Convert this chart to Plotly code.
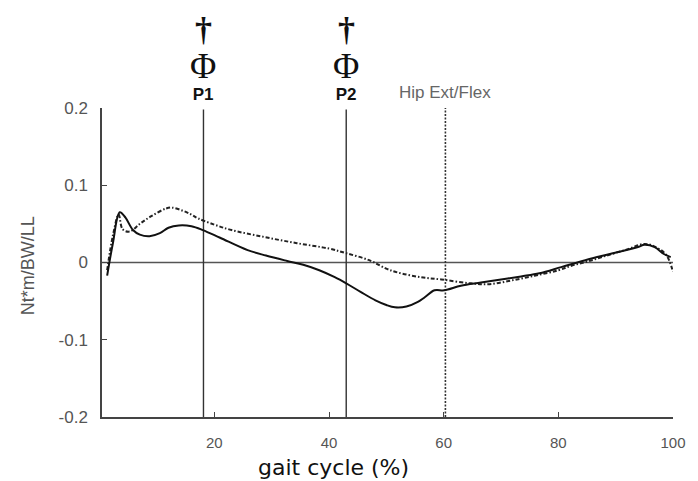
import plotly.graph_objects as go

# ---- data ----
solid_x = [1.3, 2.3, 3.5, 4.5, 5.8, 7.0, 8.7, 10.5, 12.0, 13.8, 16.0, 18.0, 21.0, 25.8, 29.0,
           32.7, 35.5, 38.3, 41.0, 43.0, 45.5, 48.1, 50.0, 51.5, 53.5, 55.5, 56.7, 58.4,
           60.1, 63.0, 66.5, 70.0, 73.5, 76.7, 80.5, 84.7, 89.0, 93.9, 95.0, 96.8, 98.4, 99.6]
solid_y = [-0.017, 0.025, 0.065, 0.058, 0.042, 0.036, 0.034, 0.038, 0.045, 0.048, 0.047, 0.042,
           0.032, 0.016, 0.009, 0.002, -0.003, -0.010, -0.019, -0.027, -0.038, -0.049, -0.055,
           -0.058, -0.057, -0.051, -0.045, -0.036, -0.036, -0.030, -0.026, -0.022, -0.018,
           -0.014, -0.006, 0.003, 0.011, 0.020, 0.023, 0.020, 0.011, 0.007]

dash_x = [1.3, 2.3, 3.3, 4.0, 5.2, 7.0, 9.0, 11.6, 12.6, 14.5, 16.0, 17.2, 20.0, 23.0, 28.7,
          34.4, 40.0, 43.0, 47.0, 50.0, 52.0, 56.0, 59.6, 64.7, 68.0, 72.0, 76.0, 80.0,
          82.4, 85.0, 88.0, 92.0, 95.0, 97.0, 98.8, 100.0]
dash_y = [-0.010, 0.035, 0.062, 0.043, 0.040, 0.050, 0.060, 0.070, 0.071, 0.067, 0.062, 0.057,
          0.049, 0.042, 0.033, 0.025, 0.018, 0.012, 0.003, -0.008, -0.013, -0.019, -0.022,
          -0.027, -0.028, -0.023, -0.017, -0.010, -0.004, 0.001, 0.008, 0.017, 0.024, 0.020,
          0.010, -0.012]

event_x = [18.1, 43.0]
event_labels = ["P1", "P2"]
hip_x = 60.3
hip_label = "Hip Ext/Flex"

x_ticks = [20, 40, 60, 80, 100]
y_ticks = [0.2, 0.1, 0, -0.1, -0.2]
y_ticktext = ["0.2", "0.1", "0", "-0.1", "-0.2"]

fig = go.Figure()

# zero line
fig.add_shape(type="line", x0=0.4, x1=100, y0=0, y1=0, xref="x", yref="y",
              line=dict(color="#555555", width=1.6), layer="below")
# event lines
for ex in event_x:
    fig.add_shape(type="line", x0=ex, x1=ex, y0=-0.2, y1=0.198, xref="x", yref="y",
                  line=dict(color="#333333", width=1.4), layer="below")
fig.add_shape(type="line", x0=hip_x, x1=hip_x, y0=-0.2, y1=0.2, xref="x", yref="y",
              line=dict(color="#333333", width=1.6, dash="2px,1.5px"), layer="below")

fig.add_trace(go.Scatter(x=dash_x, y=dash_y, mode="lines", line_shape="spline",
                         line=dict(color="#222222", width=2, dash="4px,2px,1.5px,2px"),
                         showlegend=False))
fig.add_trace(go.Scatter(x=solid_x, y=solid_y, mode="lines", line_shape="spline",
                         line=dict(color="#111111", width=2), showlegend=False))

for ex, lab in zip(event_x, event_labels):
    stack = ("<span style='font-size:36px;font-family:Liberation Serif'>Φ</span><br>"
             "<b>" + lab + "</b>")
    fig.add_annotation(x=ex, y=1.008, xref="x", yref="paper", yanchor="bottom",
                       align="center", text=stack, showarrow=False,
                       font=dict(family="Liberation Sans", size=17, color="#111"))
    fig.add_annotation(x=ex, y=1.255, xref="x", yref="paper", yanchor="middle",
                       text="<b>†</b>", showarrow=False,
                       font=dict(family="Liberation Serif", size=34, color="#111"))

fig.add_annotation(x=hip_x, y=1.05, xref="x", yref="paper", yanchor="middle",
                   text=hip_label, showarrow=False,
                   font=dict(family="Liberation Sans", size=17, color="#666"))

fig.add_annotation(x=0.406, y=-0.162, xref="paper", yref="paper", xanchor="center",
                   yanchor="middle", text="gait cycle (%)", showarrow=False,
                   font=dict(family="DejaVu Sans", size=22, color="#111"))
fig.add_annotation(x=-0.13, y=0.49, xref="paper", yref="paper", xanchor="center",
                   yanchor="middle", text="Nt*m/BW/LL", showarrow=False, textangle=-90,
                   font=dict(family="Liberation Sans", size=18, color="#555"))

fig.update_layout(
    width=698, height=481,
    margin=dict(l=102, r=16, t=108, b=64),
    paper_bgcolor="white", plot_bgcolor="white",
    xaxis=dict(range=[0.4, 100], tickvals=x_ticks, ticks="inside", ticklen=5,
               tickwidth=1.3, tickcolor="#444", showline=True, linecolor="#444",
               linewidth=1.5, showgrid=False, zeroline=False, ticklabelstandoff=11,
               tickfont=dict(family="Liberation Sans", size=15, color="#555")),
    yaxis=dict(range=[-0.2, 0.2], tickvals=y_ticks, ticktext=y_ticktext, ticks="inside",
               ticklen=5, tickwidth=1.3, tickcolor="#444", showline=True, linecolor="#444",
               linewidth=1.5, showgrid=False, zeroline=False, ticklabelstandoff=9,
               tickfont=dict(family="Liberation Sans", size=17, color="#555")),
)

fig.write_html("out.html")
